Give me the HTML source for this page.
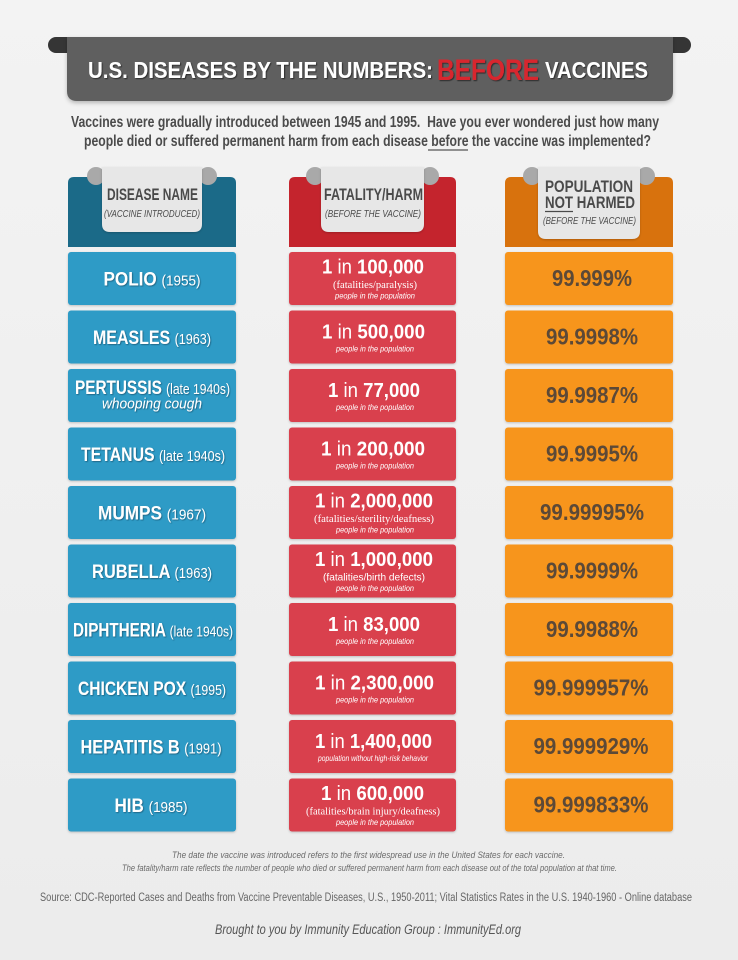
<!DOCTYPE html>
<html>
<head>
<meta charset="utf-8">
<style>
html,body{margin:0;padding:0;background:#f0f0f0;}
svg{display:block;}
text{font-family:"Liberation Sans",sans-serif;}
.serif{font-family:"Liberation Serif",serif;}
</style>
</head>
<body>
<svg width="738" height="960" viewBox="0 0 738 960" xmlns="http://www.w3.org/2000/svg">
<defs>
  <filter id="ts" x="-10%" y="-30%" width="120%" height="160%">
    <feDropShadow dx="1" dy="1" stdDeviation="0.6" flood-color="#000" flood-opacity="0.55"/>
  </filter>
  <filter id="ts2" x="-10%" y="-30%" width="120%" height="160%">
    <feDropShadow dx="0.8" dy="0.8" stdDeviation="0.5" flood-color="#0a3347" flood-opacity="0.6"/>
  </filter>
  <filter id="bs" x="-5%" y="-10%" width="110%" height="130%">
    <feDropShadow dx="0" dy="2" stdDeviation="2" flood-color="#000" flood-opacity="0.25"/>
  </filter>
  <filter id="rs" x="-5%" y="-10%" width="110%" height="130%">
    <feDropShadow dx="0" dy="1" stdDeviation="1" flood-color="#000" flood-opacity="0.2"/>
  </filter>
  <linearGradient id="bg" x1="0" y1="0" x2="0" y2="1">
    <stop offset="0" stop-color="#f3f3f3"/>
    <stop offset="1" stop-color="#ececec"/>
  </linearGradient>
</defs>

<rect x="0" y="0" width="738" height="960" fill="url(#bg)"/>

<!-- Banner -->
<path d="M70,37 H56 A8,8 0 0 0 56,53 H70 Z" fill="#353535"/>
<path d="M668,37 H683 A8,8 0 0 1 683,53 H668 Z" fill="#353535"/>
<path d="M67,37 H673 V91 Q673,101 663,101 H77 Q67,101 67,91 Z" fill="#5f5f5f" filter="url(#bs)"/>

<g filter="url(#ts)">
<text x="88" y="78" font-size="23" font-weight="bold" fill="#ffffff" textLength="345" lengthAdjust="spacingAndGlyphs">U.S. DISEASES BY THE NUMBERS:</text>
<text x="437" y="80" font-size="30" font-weight="bold" fill="#d8252f" textLength="102" lengthAdjust="spacingAndGlyphs">BEFORE</text>
<text x="545" y="78" font-size="23" font-weight="bold" fill="#ffffff" textLength="103" lengthAdjust="spacingAndGlyphs">VACCINES</text>
</g>

<!-- Subtitle -->
<text x="71" y="127" font-size="16" font-weight="bold" fill="#4b4b4b" textLength="588" lengthAdjust="spacingAndGlyphs" xml:space="preserve">Vaccines were gradually introduced between 1945 and 1995.  Have you ever wondered just how many</text>
<text x="84" y="146" font-size="16" font-weight="bold" fill="#4b4b4b" textLength="567" lengthAdjust="spacingAndGlyphs">people died or suffered permanent harm from each disease before the vaccine was implemented?</text>
<line x1="428" y1="150" x2="468" y2="150" stroke="#555" stroke-width="1.3"/>

<!-- Column headers -->
<path d="M68,183 Q68,177 74,177 H230 Q236,177 236,183 V247 H68 Z" fill="#1b6a88"/>
<path d="M289,183 Q289,177 295,177 H450 Q456,177 456,183 V247 H289 Z" fill="#c4242d"/>
<path d="M505,183 Q505,177 511,177 H667 Q673,177 673,183 V247 H505 Z" fill="#d8720d"/>

<circle cx="96" cy="176" r="9" fill="#a9a9a9"/>
<circle cx="208" cy="176" r="9" fill="#a9a9a9"/>
<circle cx="315" cy="176" r="9" fill="#a9a9a9"/>
<circle cx="430" cy="176" r="9" fill="#a9a9a9"/>
<circle cx="532" cy="176" r="9" fill="#a9a9a9"/>
<circle cx="646" cy="176" r="9" fill="#a9a9a9"/>

<path d="M102,167 H202 V224 Q202,232 194,232 H110 Q102,232 102,224 Z" fill="#e7e7e7" filter="url(#rs)"/>
<path d="M321,167 H424 V224 Q424,232 416,232 H329 Q321,232 321,224 Z" fill="#e7e7e7" filter="url(#rs)"/>
<path d="M538,167 H640 V231 Q640,239 632,239 H546 Q538,239 538,231 Z" fill="#e7e7e7" filter="url(#rs)"/>

<text x="107" y="200" font-size="17" font-weight="bold" fill="#4a4a4a" textLength="91" lengthAdjust="spacingAndGlyphs">DISEASE NAME</text>
<text x="104" y="217" font-size="10.5" font-style="italic" fill="#4a4a4a" textLength="96" lengthAdjust="spacingAndGlyphs">(VACCINE INTRODUCED)</text>
<text x="324" y="200" font-size="17" font-weight="bold" fill="#4a4a4a" textLength="99" lengthAdjust="spacingAndGlyphs">FATALITY/HARM</text>
<text x="325" y="217" font-size="10.5" font-style="italic" fill="#4a4a4a" textLength="96" lengthAdjust="spacingAndGlyphs">(BEFORE THE VACCINE)</text>
<text x="545" y="192" font-size="16.5" font-weight="bold" fill="#4a4a4a" textLength="88" lengthAdjust="spacingAndGlyphs">POPULATION</text>
<text x="545" y="208" font-size="16.5" font-weight="bold" fill="#4a4a4a" textLength="90" lengthAdjust="spacingAndGlyphs">NOT HARMED</text>
<line x1="545" y1="211.5" x2="573" y2="211.5" stroke="#4a4a4a" stroke-width="1.2"/>
<text x="543" y="224" font-size="10.5" font-style="italic" fill="#4a4a4a" textLength="93" lengthAdjust="spacingAndGlyphs">(BEFORE THE VACCINE)</text>

<!-- Row backgrounds -->
<g filter="url(#rs)">
<rect x="68" y="252" width="168" height="53" rx="3" fill="#2f9bc6"/>
<rect x="68" y="310.5" width="168" height="53" rx="3" fill="#2f9bc6"/>
<rect x="68" y="369" width="168" height="53" rx="3" fill="#2f9bc6"/>
<rect x="68" y="427.5" width="168" height="53" rx="3" fill="#2f9bc6"/>
<rect x="68" y="486" width="168" height="53" rx="3" fill="#2f9bc6"/>
<rect x="68" y="544.5" width="168" height="53" rx="3" fill="#2f9bc6"/>
<rect x="68" y="603" width="168" height="53" rx="3" fill="#2f9bc6"/>
<rect x="68" y="661.5" width="168" height="53" rx="3" fill="#2f9bc6"/>
<rect x="68" y="720" width="168" height="53" rx="3" fill="#2f9bc6"/>
<rect x="68" y="778.5" width="168" height="53" rx="3" fill="#2f9bc6"/>

<rect x="289" y="252" width="167" height="53" rx="3" fill="#d9414e"/>
<rect x="289" y="310.5" width="167" height="53" rx="3" fill="#d9414e"/>
<rect x="289" y="369" width="167" height="53" rx="3" fill="#d9414e"/>
<rect x="289" y="427.5" width="167" height="53" rx="3" fill="#d9414e"/>
<rect x="289" y="486" width="167" height="53" rx="3" fill="#d9414e"/>
<rect x="289" y="544.5" width="167" height="53" rx="3" fill="#d9414e"/>
<rect x="289" y="603" width="167" height="53" rx="3" fill="#d9414e"/>
<rect x="289" y="661.5" width="167" height="53" rx="3" fill="#d9414e"/>
<rect x="289" y="720" width="167" height="53" rx="3" fill="#d9414e"/>
<rect x="289" y="778.5" width="167" height="53" rx="3" fill="#d9414e"/>

<rect x="505" y="252" width="168" height="53" rx="3" fill="#f7951e"/>
<rect x="505" y="310.5" width="168" height="53" rx="3" fill="#f7951e"/>
<rect x="505" y="369" width="168" height="53" rx="3" fill="#f7951e"/>
<rect x="505" y="427.5" width="168" height="53" rx="3" fill="#f7951e"/>
<rect x="505" y="486" width="168" height="53" rx="3" fill="#f7951e"/>
<rect x="505" y="544.5" width="168" height="53" rx="3" fill="#f7951e"/>
<rect x="505" y="603" width="168" height="53" rx="3" fill="#f7951e"/>
<rect x="505" y="661.5" width="168" height="53" rx="3" fill="#f7951e"/>
<rect x="505" y="720" width="168" height="53" rx="3" fill="#f7951e"/>
<rect x="505" y="778.5" width="168" height="53" rx="3" fill="#f7951e"/>
</g>

<!-- Column 1 text -->
<g fill="#ffffff" filter="url(#ts2)" text-anchor="middle">
<text x="152" y="285.5" font-size="19" font-weight="bold" textLength="97" lengthAdjust="spacingAndGlyphs">POLIO <tspan font-size="15" font-weight="normal">(1955)</tspan></text>
<text x="152" y="344" font-size="19" font-weight="bold" textLength="118" lengthAdjust="spacingAndGlyphs">MEASLES <tspan font-size="15" font-weight="normal">(1963)</tspan></text>
<text x="152.5" y="394" font-size="19" font-weight="bold" textLength="155" lengthAdjust="spacingAndGlyphs">PERTUSSIS <tspan font-size="15" font-weight="normal">(late 1940s)</tspan></text>
<text x="152" y="408.5" font-size="15" font-style="italic" textLength="100" lengthAdjust="spacingAndGlyphs">whooping cough</text>
<text x="153" y="461" font-size="19" font-weight="bold" textLength="144" lengthAdjust="spacingAndGlyphs">TETANUS <tspan font-size="15" font-weight="normal">(late 1940s)</tspan></text>
<text x="152" y="519.5" font-size="19" font-weight="bold" textLength="108" lengthAdjust="spacingAndGlyphs">MUMPS <tspan font-size="15" font-weight="normal">(1967)</tspan></text>
<text x="152" y="578" font-size="19" font-weight="bold" textLength="120" lengthAdjust="spacingAndGlyphs">RUBELLA <tspan font-size="15" font-weight="normal">(1963)</tspan></text>
<text x="153" y="636.5" font-size="19" font-weight="bold" textLength="160" lengthAdjust="spacingAndGlyphs">DIPHTHERIA <tspan font-size="15" font-weight="normal">(late 1940s)</tspan></text>
<text x="152" y="695" font-size="19" font-weight="bold" textLength="148" lengthAdjust="spacingAndGlyphs">CHICKEN POX <tspan font-size="15" font-weight="normal">(1995)</tspan></text>
<text x="151" y="753.5" font-size="19" font-weight="bold" textLength="141" lengthAdjust="spacingAndGlyphs">HEPATITIS B <tspan font-size="15" font-weight="normal">(1991)</tspan></text>
<text x="151" y="812" font-size="19" font-weight="bold" textLength="73" lengthAdjust="spacingAndGlyphs">HIB <tspan font-size="15" font-weight="normal">(1985)</tspan></text>
</g>

<!-- Column 2 text -->
<g fill="#ffffff" text-anchor="middle">
<text x="373" y="273.5" font-size="20" font-weight="bold" textLength="102" lengthAdjust="spacingAndGlyphs">1 <tspan font-weight="normal">in</tspan> 100,000</text>
<text x="375" y="288" font-size="11" class="serif" textLength="84" lengthAdjust="spacingAndGlyphs">(fatalities/paralysis)</text>
<text x="375" y="298.5" font-size="8.5" font-style="italic" textLength="80" lengthAdjust="spacingAndGlyphs">people in the population</text>

<text x="373.5" y="338.5" font-size="20" font-weight="bold" textLength="103" lengthAdjust="spacingAndGlyphs">1 <tspan font-weight="normal">in</tspan> 500,000</text>
<text x="375" y="351.5" font-size="8.5" font-style="italic" textLength="78" lengthAdjust="spacingAndGlyphs">people in the population</text>

<text x="374" y="397" font-size="20" font-weight="bold" textLength="92" lengthAdjust="spacingAndGlyphs">1 <tspan font-weight="normal">in</tspan> 77,000</text>
<text x="375" y="410" font-size="8.5" font-style="italic" textLength="78" lengthAdjust="spacingAndGlyphs">people in the population</text>

<text x="373" y="455.5" font-size="20" font-weight="bold" textLength="104" lengthAdjust="spacingAndGlyphs">1 <tspan font-weight="normal">in</tspan> 200,000</text>
<text x="375" y="468.5" font-size="8.5" font-style="italic" textLength="78" lengthAdjust="spacingAndGlyphs">people in the population</text>

<text x="374" y="507.5" font-size="20" font-weight="bold" textLength="118" lengthAdjust="spacingAndGlyphs">1 <tspan font-weight="normal">in</tspan> 2,000,000</text>
<text x="374" y="522" font-size="11" class="serif" textLength="120" lengthAdjust="spacingAndGlyphs">(fatalities/sterility/deafness)</text>
<text x="375" y="532.5" font-size="8.5" font-style="italic" textLength="78" lengthAdjust="spacingAndGlyphs">people in the population</text>

<text x="374" y="566" font-size="20" font-weight="bold" textLength="118" lengthAdjust="spacingAndGlyphs">1 <tspan font-weight="normal">in</tspan> 1,000,000</text>
<text x="374" y="580.5" font-size="10.5" textLength="102" lengthAdjust="spacingAndGlyphs">(fatalities/birth defects)</text>
<text x="375" y="591" font-size="8.5" font-style="italic" textLength="78" lengthAdjust="spacingAndGlyphs">people in the population</text>

<text x="374" y="631" font-size="20" font-weight="bold" textLength="92" lengthAdjust="spacingAndGlyphs">1 <tspan font-weight="normal">in</tspan> 83,000</text>
<text x="375" y="644" font-size="8.5" font-style="italic" textLength="78" lengthAdjust="spacingAndGlyphs">people in the population</text>

<text x="374.5" y="689.5" font-size="20" font-weight="bold" textLength="119" lengthAdjust="spacingAndGlyphs">1 <tspan font-weight="normal">in</tspan> 2,300,000</text>
<text x="375" y="702.5" font-size="8.5" font-style="italic" textLength="78" lengthAdjust="spacingAndGlyphs">people in the population</text>

<text x="373.5" y="748" font-size="20" font-weight="bold" textLength="117" lengthAdjust="spacingAndGlyphs">1 <tspan font-weight="normal">in</tspan> 1,400,000</text>
<text x="373" y="761" font-size="8.5" font-style="italic" textLength="110" lengthAdjust="spacingAndGlyphs">population without high-risk behavior</text>

<text x="372.5" y="800" font-size="20" font-weight="bold" textLength="103" lengthAdjust="spacingAndGlyphs">1 <tspan font-weight="normal">in</tspan> 600,000</text>
<text x="373" y="814.5" font-size="11" class="serif" textLength="134" lengthAdjust="spacingAndGlyphs">(fatalities/brain injury/deafness)</text>
<text x="375" y="825" font-size="8.5" font-style="italic" textLength="78" lengthAdjust="spacingAndGlyphs">people in the population</text>
</g>

<!-- Column 3 text -->
<g fill="#5c4937" font-size="23" font-weight="bold" text-anchor="middle">
<text x="592" y="286" textLength="80" lengthAdjust="spacingAndGlyphs">99.999%</text>
<text x="592" y="344.5" textLength="92" lengthAdjust="spacingAndGlyphs">99.9998%</text>
<text x="592" y="403" textLength="92" lengthAdjust="spacingAndGlyphs">99.9987%</text>
<text x="592" y="461.5" textLength="92" lengthAdjust="spacingAndGlyphs">99.9995%</text>
<text x="592" y="520" textLength="104" lengthAdjust="spacingAndGlyphs">99.99995%</text>
<text x="592" y="578.5" textLength="92" lengthAdjust="spacingAndGlyphs">99.9999%</text>
<text x="592" y="637" textLength="92" lengthAdjust="spacingAndGlyphs">99.9988%</text>
<text x="591" y="695.5" textLength="115" lengthAdjust="spacingAndGlyphs">99.999957%</text>
<text x="591" y="754" textLength="115" lengthAdjust="spacingAndGlyphs">99.999929%</text>
<text x="591" y="812.5" textLength="115" lengthAdjust="spacingAndGlyphs">99.999833%</text>
</g>

<!-- Footer -->
<text x="172" y="858" font-size="9.5" font-style="italic" fill="#6a6a6a" textLength="393" lengthAdjust="spacingAndGlyphs">The date the vaccine was introduced refers to the first widespread use in the United States for each vaccine.</text>
<text x="122" y="871" font-size="9.5" font-style="italic" fill="#6a6a6a" textLength="495" lengthAdjust="spacingAndGlyphs">The fatality/harm rate reflects the number of people who died or suffered permanent harm from each disease out of the total population at that time.</text>
<text x="40" y="901" font-size="11.5" fill="#666666" textLength="652" lengthAdjust="spacingAndGlyphs">Source: CDC-Reported Cases and Deaths from Vaccine Preventable Diseases, U.S., 1950-2011; Vital Statistics Rates in the U.S. 1940-1960 - Online database</text>
<text x="215" y="934" font-size="13.5" font-style="italic" fill="#555555" textLength="306" lengthAdjust="spacingAndGlyphs">Brought to you by Immunity Education Group : ImmunityEd.org</text>
</svg>
</body>
</html>
